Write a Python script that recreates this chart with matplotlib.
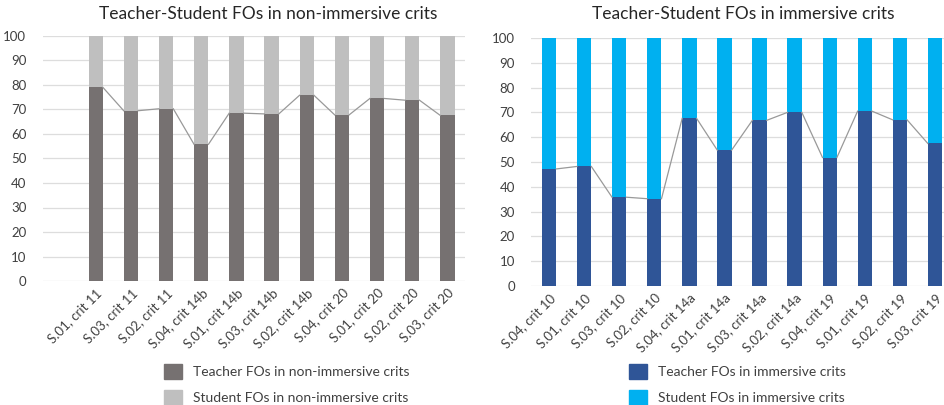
import numpy as np
import matplotlib.pyplot as plt
from matplotlib.patches import Patch

plt.rcParams['font.family'] = ['Lato', 'DejaVu Sans']

# data
labels_non = ['', 'S.01, crit 11', 'S.03, crit 11', 'S.02, crit 11', 'S.04, crit 14b',
              'S.01, crit 14b', 'S.03, crit 14b', 'S.02, crit 14b', 'S.04, crit 20',
              'S.01, crit 20', 'S.02, crit 20', 'S.03, crit 20']
teacher_non = [np.nan, 79.0, 69.5, 70.3, 55.8, 68.5, 68.2, 75.8, 67.8, 74.5, 73.8, 67.6]

labels_imm = ['S.04, crit 10', 'S.01, crit 10', 'S.03, crit 10', 'S.02, crit 10',
              'S.04, crit 14a', 'S.01, crit 14a', 'S.03, crit 14a', 'S.02, crit 14a',
              'S.04, crit 19', 'S.01, crit 19', 'S.02, crit 19', 'S.03, crit 19']
teacher_imm = [47.2, 48.2, 35.8, 35.2, 67.6, 54.8, 66.8, 70.0, 51.8, 70.5, 67.0, 57.5]


def stacked(ax, labels, teacher, c_teacher, c_student):
    n = len(labels)
    x = np.arange(n)
    t = np.array(teacher, dtype=float)
    s = 100 - t
    w = 0.41
    mask = ~np.isnan(t)
    ax.bar(x[mask], t[mask], w, color=c_teacher, zorder=3)
    ax.bar(x[mask], s[mask], w, bottom=t[mask], color=c_student, zorder=3)
    # series lines between bar tops
    xs = x[mask]
    ts = t[mask]
    for i in range(len(xs) - 1):
        ax.plot([xs[i] + w / 2, xs[i + 1] - w / 2], [ts[i], ts[i + 1]],
                color='#999999', lw=0.9, zorder=4)
    ax.set_xlim(-0.5, n - 0.5)
    ax.set_ylim(0, 100)
    ax.set_yticks(range(0, 101, 10))
    ax.set_xticks(x)
    ax.set_xticklabels(labels, rotation=45, ha='right', rotation_mode='anchor',
                       fontsize=9, color='#404040')
    ax.tick_params(axis='both', length=0, labelsize=9.5, labelcolor='#404040')
    ax.tick_params(axis='y', pad=12)
    ax.tick_params(axis='x', pad=4)
    ax.grid(axis='y', color='#DDDDDD', lw=0.9, zorder=0)
    for sp in ax.spines.values():
        sp.set_visible(False)


fig = plt.figure(figsize=(9.45, 4.05), dpi=100)
ax1 = fig.add_axes([43 / 945, 124 / 405, 422 / 945, 245 / 405])
ax2 = fig.add_axes([531.5 / 945, 119 / 405, 421 / 945, 248 / 405])

stacked(ax1, labels_non, teacher_non, '#767171', '#BFBFBF')
stacked(ax2, labels_imm, teacher_imm, '#2F5597', '#00B0F0')

fig.text(268 / 945, 1 - 14 / 405, 'Teacher-Student FOs in non-immersive crits',
         ha='center', va='center', fontsize=12.5, color='#262626')
fig.text(743 / 945, 1 - 14 / 405, 'Teacher-Student FOs in immersive crits',
         ha='center', va='center', fontsize=12.5, color='#262626')

leg_kw = dict(loc='upper left', frameon=False, fontsize=10, handlelength=1.3,
              handleheight=1.35, labelspacing=0.75, handletextpad=0.8,
              labelcolor='#404040', borderaxespad=0)
fig.legend(handles=[Patch(color='#767171', label='Teacher FOs in non-immersive crits'),
                    Patch(color='#BFBFBF', label='Student FOs in non-immersive crits')],
           bbox_to_anchor=(158 / 945, 1 - 358 / 405), **leg_kw)
fig.legend(handles=[Patch(color='#2F5597', label='Teacher FOs in immersive crits'),
                    Patch(color='#00B0F0', label='Student FOs in immersive crits')],
           bbox_to_anchor=(623 / 945, 1 - 358 / 405), **leg_kw)

fig.savefig('out.png', dpi=100)
